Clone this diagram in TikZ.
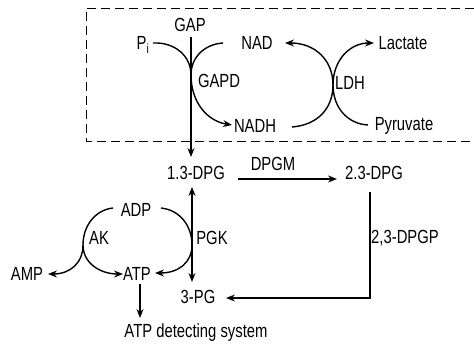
\documentclass[tikz,border=0pt]{standalone}
\usepackage{fontspec}
\setmainfont[FakeStretch=0.78]{Liberation Sans}
\usetikzlibrary{arrows.meta}
\begin{document}
\begin{tikzpicture}[x=1pt,y=-1pt,
  font=\fontsize{19}{21}\selectfont,
  line width=1.4pt,
  >={Stealth[length=9pt,width=7pt,inset=3pt]},
  lbl/.style={inner sep=1pt},
  boxline/.style={line width=0.9pt,dash pattern=on 9pt off 5pt}]
\useasboundingbox (0,0) rectangle (474,347);
\draw[boxline] (474,8) -- (86,8) -- (86,141) -- (474,141);
% labels
\node[lbl] (gap) at (190,25) {GAP};
\node[lbl] (pi) at (143,45) {P\textsubscript{i}};
\node[lbl] (nad) at (257,43) {NAD};
\node[lbl] (gapd) at (219,81) {GAPD};
\node[lbl] (nadh) at (255,126) {NADH};
\node[lbl] (lact) at (403,43) {Lactate};
\node[lbl] (pyr) at (404,126) {Pyruvate};
\node[lbl] (ldh) at (350,83) {LDH};
\node[lbl] (dpg13) at (196,173) {1.3-DPG};
\node[lbl] (dpg23) at (374,173) {2.3-DPG};
\node[lbl] (dpgm) at (273,164) {DPGM};
\node[lbl] (dpgp) at (405,238) {2,3-DPGP};
\node[lbl] (pgk) at (212,238) {PGK};
\node[lbl] (adp) at (136,210) {ADP};
\node[lbl] (ak) at (99,238) {AK};
\node[lbl] (amp) at (27,274) {AMP};
\node[lbl] (atp) at (137,274) {ATP};
\node[lbl] (pg3) at (198,297) {3-PG};
\node[lbl] (sys) at (196,333) {ATP detecting system};
% junctions and free ends
\coordinate (jg) at (191,75);
\coordinate (jl) at (333,85);
\coordinate (jak) at (83,245);
\coordinate (jpgk) at (192,245);
\coordinate (gtop) at (191,37);
\coordinate (gbot) at (191,157);
\coordinate (pgkt) at (192,187);
\coordinate (pgkb) at (192,282);
\coordinate (ms) at (238,179);
\coordinate (me) at (337,179);
\coordinate (ps) at (370,192);
\coordinate (pc) at (370,298);
\coordinate (pe) at (226,298);
\coordinate (ats) at (140,284);
\coordinate (ate) at (140,318);
\coordinate (pie) at (153,43);
\coordinate (nadw) at (223,43);
\coordinate (nadhw) at (232,125);
\coordinate (nadhe) at (292,127);
\coordinate (nade) at (285,43);
\coordinate (pyrw) at (368,125);
\coordinate (lactw) at (374,43);
\coordinate (adpe) at (161,208);
\coordinate (adpw) at (113,208);
\coordinate (atpe) at (155,273);
\coordinate (atpw) at (123,274);
\coordinate (ampe) at (48,274);
% GAPD
\draw[->] (gtop) -- (gbot);
\draw (pie) .. controls (175,42) and (191,56) .. (jg);
\draw (nadw) .. controls (206,44) and (191,56) .. (jg);
\draw[->] (jg) .. controls (191,102) and (207,121) .. (nadhw);
% LDH
\draw[->] (nadhe) .. controls (318,125) and (333,108) .. (jl) .. controls (333,60) and (315,43) .. (nade);
\draw[->] (pyrw) .. controls (348,124) and (333,108) .. (jl) .. controls (333,60) and (350,43) .. (lactw);
% DPGM
\draw[->] (ms) -- (me);
% DPGP
\draw[->] (ps) -- (pc) -- (pe);
% PGK
\draw[<->] (pgkt) -- (pgkb);
\draw (adpe) .. controls (180,210) and (192,226) .. (jpgk);
\draw[->] (jpgk) .. controls (192,263) and (178,273) .. (atpe);
% AK
\draw (adpw) .. controls (95,210) and (83,226) .. (jak);
\draw[->] (jak) .. controls (83,263) and (100,274) .. (atpw);
\draw[->] (jak) .. controls (83,263) and (70,274) .. (ampe);
% detection
\draw[->] (ats) -- (ate);
\end{tikzpicture}
\end{document}
